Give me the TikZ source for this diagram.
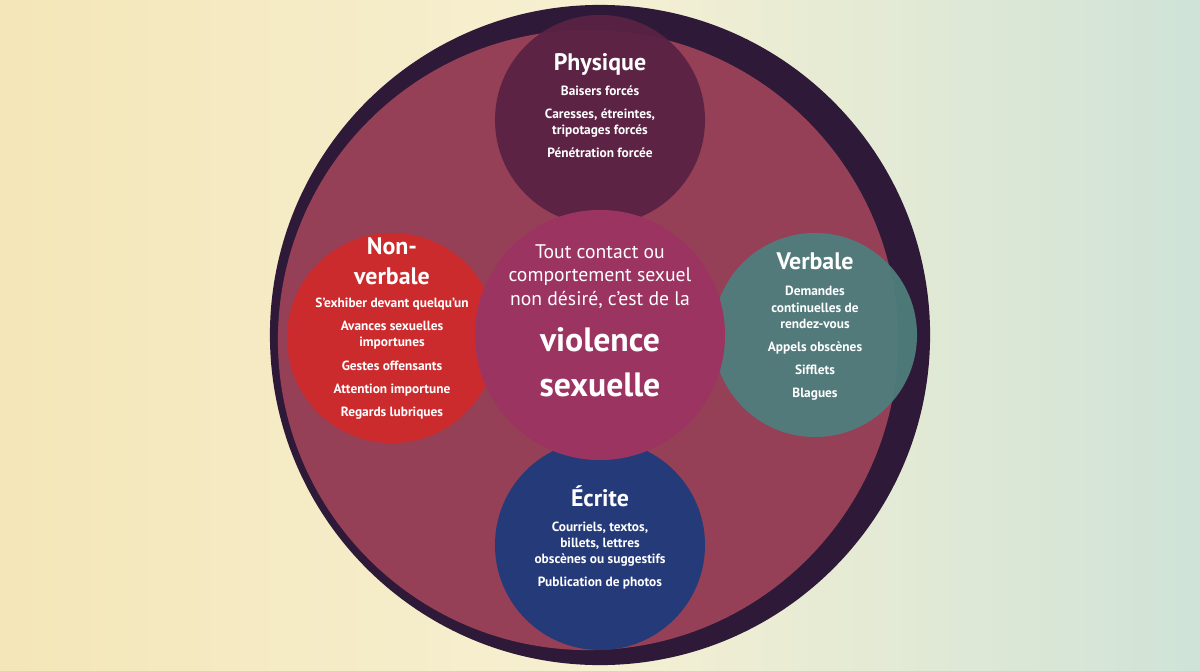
\documentclass[tikz,border=0pt]{standalone}
\usepackage{fontspec}
\setmainfont{PT Sans}
\usetikzlibrary{positioning}
\definecolor{bgA}{HTML}{F4E6B8}
\definecolor{bgB}{HTML}{F6F0D2}
\definecolor{bgC}{HTML}{CFE3D8}
\definecolor{outerC}{HTML}{2E1A38}
\definecolor{innerC}{HTML}{A8475C}
\definecolor{coreC}{HTML}{9C3462}
\definecolor{physC}{HTML}{5A2244}
\definecolor{nonvC}{HTML}{D02A2C}
\definecolor{verbC}{HTML}{4F7E7C}
\definecolor{ecrC}{HTML}{1F3A7A}
\tikzset{
    bubble/.style={circle, inner sep=-14pt, minimum size=5.25cm, text=white, align=center, font=\bfseries\fontsize{9.5}{11.5}\selectfont, opacity=0.95, text opacity=1}
}
\newcommand{\ttlbox}[1]{{\fontsize{17}{18}\selectfont #1}}
\begin{document}
\begin{tikzpicture}[x=0.025cm,y=-0.025cm]
    \useasboundingbox (0,0) rectangle (1200,670);
    % background
    \shade[left color=bgA, right color=bgC, middle color=bgB] (0,0) rectangle (1200,670);
    % outer rings
    \node[circle, fill=outerC, minimum size=16.5cm, inner sep=0pt] (outer) at (600,335) {};
    \node[circle, fill=innerC, minimum size=15.5cm, inner sep=0pt, opacity=0.85] (inner) at (588,340) {};
    % satellite bubbles
    \node[bubble, fill=physC] (physique) at (600,120) {%
        \\[2pt]\ttlbox{Physique}\\[6pt]
        Baisers forcés\\[5pt]
        Caresses, étreintes,\\ tripotages forcés\\[5pt]
        Pénétration forcée\\[12pt]};
    \node[bubble, fill=nonvC] (nonverbale) at (392,338) {%
        \ttlbox{Non-}\\[8pt]\ttlbox{verbale}\\[5pt]
        S’exhiber devant quelqu’un\\[5pt]
        Avances sexuelles\\ importunes\\[5pt]
        Gestes offensants\\[5pt]
        Attention importune\\[5pt]
        Regards lubriques\\[4pt]};
    \node[bubble, fill=verbC, minimum size=5.1cm] (verbale) at (815,335) {%
        \ttlbox{Verbale}\\[7pt]
        Demandes\\ continuelles de\\ rendez-vous\\[5pt]
        Appels obscènes\\[5pt]
        Sifflets\\[5pt]
        Blagues\\[2pt]};
    \node[bubble, fill=ecrC] (ecrite) at (600,545) {%
        \\[2pt]\ttlbox{Écrite}\\[6pt]
        Courriels, textos,\\ billets, lettres\\ obscènes ou suggestifs\\[5pt]
        Publication de photos\\[4pt]};
    % core
    \node[bubble, fill=coreC, minimum size=6.25cm, opacity=1, font=\fontsize{14}{17}\selectfont] (core) at (600,335) {%
        Tout contact ou\\ comportement sexuel\\ non désiré, c’est de la\\[12pt]
        {\bfseries\fontsize{24}{27}\selectfont violence}\\[14pt]
        {\bfseries\fontsize{24}{27}\selectfont sexuelle}\\[4pt]};
\end{tikzpicture}
\end{document}
